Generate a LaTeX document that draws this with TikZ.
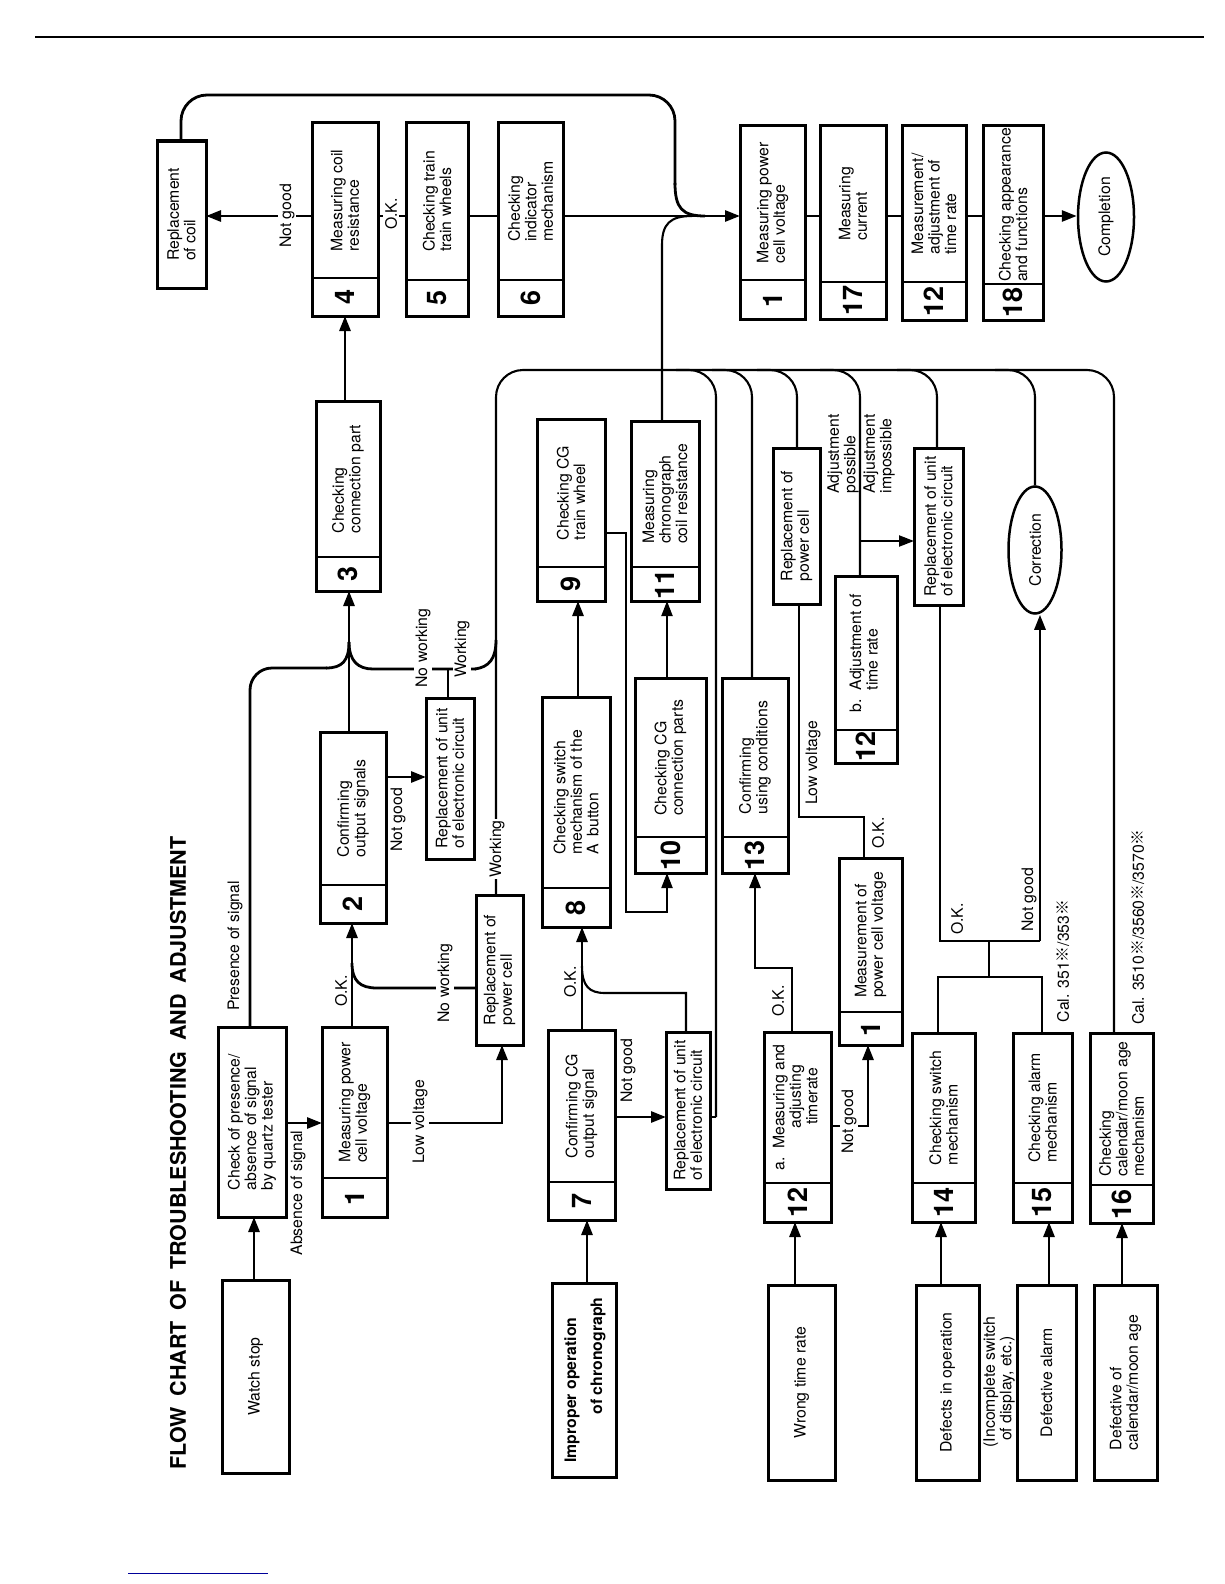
\documentclass[tikz,border=0pt]{standalone}
\usepackage{fontspec}
\setmainfont{TeX Gyre Heros}
\newfontfamily\cjkfont{Noto Sans CJK JP}
\usetikzlibrary{arrows.meta,fit,shapes.geometric}
\newcommand\txtf{\fontsize{15.8}{16.5}\selectfont}
\newcommand\refm{{\cjkfont ※}}
\newcommand\BX[6]{%
  \node[bx, fit={(#2,#3) (#4,#5)}] (#1) {};
  \node[btxt] (#1t) at ({(#2+#4)/2},{(#3+#5)/2}) {#6};}
\newcommand\NB[8]{%
  \node[bx, fit={(#2,#3) (#4,#5)}] (#1) {};
  \draw[dv] (#2,#6) -- (#4,#6);
  \node[numtxt] (#1n) at ({(#2+#4)/2},{(#6+#5)/2}) {#7};
  \node[btxt] (#1t) at ({(#2+#4)/2},{(#3+#6)/2}) {#8};}
\begin{document}
\begin{tikzpicture}[x=1pt,y=-1pt,
  bx/.style={draw, line width=3pt, inner sep=0pt, outer sep=0pt},
  dv/.style={line width=2.5pt},
  btxt/.style={rotate=90, align=left, font=\txtf, inner sep=0pt},
  numtxt/.style={rotate=90, font=\bfseries\fontsize{27}{27}\selectfont, inner sep=0pt},
  lbl/.style={rotate=90, font=\txtf, inner sep=1.5pt, align=left},
  lblw/.style={lbl, fill=white},
  cn/.style={line width=2.8pt},
  tn/.style={line width=2.1pt},
  ar/.style={cn, -{Triangle[length=15pt,width=11pt]}},
  art/.style={tn, -{Triangle[length=15pt,width=11pt]}},
  bs/.style={line width=2.1pt, rounded corners=27pt},
  ell/.style={draw, ellipse, line width=2.5pt, inner sep=0pt}
]
\useasboundingbox (0,0) rectangle (1224,1584);
% page rules
\draw[line width=2.5pt] (35,37) -- (1204,37);
\draw[line width=1pt, blue!60!black] (128,1573) -- (268,1573);
% title
\node[rotate=90, font=\bfseries\fontsize{21.5}{21.5}\selectfont, inner sep=0pt] (title) at (178,1153)
  {FLOW\hspace{0.5em}CHART\hspace{0.5em}OF\hspace{0.5em}TROUBLESHOOTING\hspace{0.5em}AND\hspace{0.5em}ADJUSTMENT};

% ---------- boxes ----------
\BX{coil}{157}{141}{206}{288}{Replacement\\of coil}
\NB{nf}{312}{123}{378}{316}{278}{4}{Measuring coil\\resistance}
\NB{nv}{406}{123}{468}{316}{280}{5}{Checking train\\train wheels}
\NB{ns}{498}{123}{563}{316}{280}{6}{Checking\\indicator\\mechanism}
\NB{nt}{316}{401}{380}{591}{557}{3}{Checking\\connection part}
\NB{nn}{537}{419}{605}{601}{567}{9}{Checking CG\\train wheel}
\NB{ra}{740}{126}{805}{319}{280}{1}{Measuring power\\cell voltage}
\NB{rb}{820}{126}{886}{319}{282}{17}{Measuring\\current}
\NB{rc}{902}{126}{966}{320}{282}{12}{Measurement/\\adjustment of\\time rate}
\NB{rd}{983}{126}{1043}{320}{284}{18}{Checking appearance\\and functions}
\node[ell, minimum width=56pt, minimum height=129pt] (comp) at (1106,217) {};
\node[btxt] (compt) at (comp.center) {Completion};
\NB{nel}{631}{421}{699}{601}{567}{11}{Measuring\\chronograph\\coil resistance}
\BX{rpcb}{773}{448}{820}{604}{Replacement of\\power cell}
\BX{rub}{914}{448}{963}{605}{Replacement of unit\\of electronic circuit}
\node[ell, minimum width=53pt, minimum height=127pt] (corr) at (1035,550) {};
\node[btxt] (corrt) at (corr.center) {Correction};
\NB{ntb}{835}{576}{897}{763}{730}{12}{b.\ \ \begin{tabular}[t]{@{}l@{}}Adjustment of\\time rate\end{tabular}}
\NB{ntw}{320}{732}{386}{923}{885}{2}{Confirming\\output signals}
\BX{rua}{426}{698}{474}{859}{Replacement of unit\\of electronic circuit}
\BX{rpca}{476}{895}{523}{1045}{Replacement of\\power cell}
\NB{ne}{542}{697}{610}{927}{888}{8}{Checking switch\\mechanism of the\\A\enspace button}
\NB{nten}{635}{678}{706}{873}{837}{10}{Checking CG\\connection parts}
\NB{nth}{722}{678}{788}{873}{837}{13}{Confirming\\using conditions}
\NB{nob}{839}{858}{902}{1045}{1012}{1}{Measurement of\\power cell voltage}
\BX{ck}{218}{1027}{286}{1217}{Check of presence/\\absence of signal\\by quartz tester}
\NB{noa}{322}{1027}{387}{1217}{1178}{1}{Measuring power\\cell voltage}
\BX{ws}{222}{1280}{289}{1473}{Watch stop}
\NB{nse}{548}{1030}{615}{1220}{1182}{7}{Confirming CG\\output signal}
\node[bx, fit={(552,1283) (616,1477)}] (io) {};
\node[lbl, font=\txtf\bfseries, inner sep=0pt] (iot1) at (572,1390) {Improper operation};
\node[lbl, font=\txtf\bfseries, inner sep=0pt] (iot2) at (598,1356) {of chronograph};
\BX{ruc}{666}{1032}{710}{1189}{Replacement of unit\\of electronic circuit}
\NB{nta}{764}{1032}{831}{1222}{1183}{12}{a.\ \ \begin{tabular}[t]{@{}c@{}}Measuring and\\adjusting\\timerate\end{tabular}}
\BX{wt}{768}{1285}{835}{1480}{Wrong time rate}
\NB{nfo}{912}{1033}{975}{1222}{1183}{14}{Checking switch\\mechanism}
\BX{do}{916}{1285}{979}{1480}{Defects in operation}
\NB{nfi}{1013}{1033}{1072}{1222}{1183}{15}{Checking alarm\\mechanism}
\BX{da}{1017}{1285}{1076}{1480}{Defective alarm}
\NB{nsi}{1090}{1033}{1153}{1223}{1185}{16}{Checking\\calendar/moon age\\mechanism}
\BX{dc}{1094}{1285}{1157}{1480}{Defective of\\calendar/moon age}
\node[lbl] (incl) at (999,1382) {(Incomplete switch\\\hspace*{0.4em}of display, etc.)};

% ---------- watch stop path ----------
\draw[ar] (ws.north -| 254,0) -- (ck.south -| 254,0);
\draw[ar] (ck.east |- 0,1123) -- (noa.west |- 0,1123);
\draw[ar] (noa.east |- 0,1123) -- (502,1123) -- (rpca.south -| 502,0);
\draw[cn, rounded corners=22pt] (ck.north -| 250,0) -- (250,668) -- (327,668);
\draw[cn] (326,668) .. controls (342,668) and (349,661) .. (349,642);
\draw[ar] (noa.north -| 352,0) -- (ntw.south -| 352,0);
\draw[cn] (rpca.west |- 0,988) -- (377,988) .. controls (360,988) and (352,981) .. (352,963);
\draw[ar] (ntw.north -| 349,0) -- (nt.south -| 349,0);
\draw[ar] (ntw.east |- 0,777) -- (rua.west |- 0,777);
\draw[cn] (rua.north -| 448,0) -- (448,669);
\draw[cn] (476,669) -- (373,669) .. controls (358,669) and (349,661) .. (349,642);
\draw[cn] (475,669) .. controls (489,667) and (496,659) .. (496,640);
\draw[ar] (nt.north -| 345,0) -- (nf.south -| 345,0);
\draw[ar] (nf.west |- 0,216) -- (coil.east |- 0,216);
\draw[cn] (nf.east |- 0,216) -- (nv.west |- 0,216);
\draw[cn] (nv.east |- 0,216) -- (ns.west |- 0,216);
\draw[ar] (ns.east |- 0,216) -- (ra.west |- 0,216);
\draw[cn, rounded corners=26pt] (coil.north -| 181,0) -- (181,95) -- (675,95) -- (675,185);
\draw[cn] (675,183) .. controls (675,208) and (682,216) .. (705,216);
\draw[tn] (nel.north -| 662,0) -- (662,245) .. controls (662,224) and (670,216) .. (692,216);
\draw[cn] (ra.east |- 0,216) -- (rb.west |- 0,216);
\draw[cn] (rb.east |- 0,216) -- (rc.west |- 0,216);
\draw[cn] (rc.east |- 0,216) -- (rd.west |- 0,216);
\draw[ar] (rd.east |- 0,216) -- (comp.west |- 0,216);

% ---------- lower bus ----------
\draw[bs] (rpca.north -| 496,0) -- (496,370) -- (1114,370) -- (nsi.north -| 1114,0);
\draw[bs] (676,370) -- (716,370) -- (716,1117);
\draw[tn] (716,1117) -- (ruc.east |- 0,1117);
\draw[bs] (712,370) -- (752,370) -- (nth.north -| 752,0);
\draw[bs] (757,370) -- (797,370) -- (rpcb.north -| 797,0);
\draw[bs] (820,370) -- (860,370) -- (ntb.north -| 860,0);
\draw[bs] (897,370) -- (937,370) -- (rub.north -| 937,0);
\draw[bs] (995,370) -- (1035,370) -- (corr.north -| 1035,0);
\coordinate (jb) at (860,541);
\draw[art] (jb) -- (rub.west |- jb);

% ---------- chronograph path ----------
\draw[ar] (io.north -| 587,0) -- (nse.south -| 587,0);
\draw[ar] (nse.north -| 582,0) -- (ne.south -| 582,0);
\draw[ar] (nse.east |- 0,1117) -- (ruc.west |- 0,1117);
\draw[tn] (ruc.north -| 686,0) -- (686,993) -- (605,993) .. controls (589,993) and (582,986) .. (582,966);
\draw[ar] (ne.north -| 578,0) -- (nn.south -| 578,0);
\draw[art] (nn.east |- 0,533) -- (626,533) -- (626,912) -- (667,912) -- (nten.south -| 667,0);
\draw[art] (nten.north -| 667,0) -- (nel.south -| 667,0);

% ---------- time rate path ----------
\draw[ar] (wt.north -| 795,0) -- (nta.south -| 795,0);
\draw[ar] (nta.north -| 792,0) -- (792,968) -- (755,968) -- (nth.south -| 755,0);
\draw[ar] (nta.east |- 0,1126) -- (868,1126) -- (nob.south -| 868,0);
\draw[tn] (nob.north -| 864,0) -- (864,817) -- (799,817) -- (rpcb.south -| 799,0);

% ---------- defects ----------
\draw[cn] (rub.south -| 940,0) -- (940,941) -- (1040,941);
\draw[ar] (1040,941) -- (corr.south -| 1040,0);
\coordinate (jc) at (989,941);
\coordinate (jd) at (989,977);
\draw[cn] (jc) -- (jd);
\draw[cn] (nfo.north -| 938,0) -- (938,977) -- (1042,977) -- (nfi.north -| 1042,0);
\draw[ar] (do.north -| 941,0) -- (nfo.south -| 941,0);
\draw[ar] (da.north -| 1049,0) -- (nfi.south -| 1049,0);
\draw[ar] (dc.north -| 1122,0) -- (nsi.south -| 1122,0);

% ---------- labels ----------
\node[lbl] (lab1) at (298,1193) {Absence of signal};
\node[lblw] (lab2) at (420,1122) {Low voltage};
\node[lbl] (lab3) at (235,946) {Presence of signal};
\node[lbl] (lab4) at (341,991) {O.K.};
\node[lblw] (lab5) at (445,983) {No working};
\node[lbl] (lab6) at (398,820) {Not good};
\node[lblw] (lab7) at (423,648) {No working};
\node[lblw] (lab8) at (462,649) {Working};
\node[lblw] (lab9) at (287,216) {Not good};
\node[lblw] (lab10) at (391,214) {O.K.};
\node[lblw] (lab11) at (497,849) {Working};
\node[lbl] (lab12) at (843,454) {Adjustment\\possible};
\node[lbl] (lab13) at (879,454) {Adjustment\\impossible};
\node[lbl] (lab14) at (1138,927) {Cal. 3510\refm/3560\refm/3570\refm};
\node[lbl] (lab15) at (570,982) {O.K.};
\node[lbl] (lab16) at (628,1071) {Not good};
\node[lbl] (lab17) at (778,1001) {O.K.};
\node[lblw] (lab18) at (849,1122) {Not good};
\node[lbl] (lab19) at (813,763) {Low voltage};
\node[lbl] (lab20) at (878,833) {O.K.};
\node[lbl] (lab21) at (957,919) {O.K.};
\node[lbl] (lab22) at (1029,900) {Not good};
\node[lbl] (lab23) at (1063,961) {Cal. 351\refm/353\refm};
\end{tikzpicture}
\end{document}
